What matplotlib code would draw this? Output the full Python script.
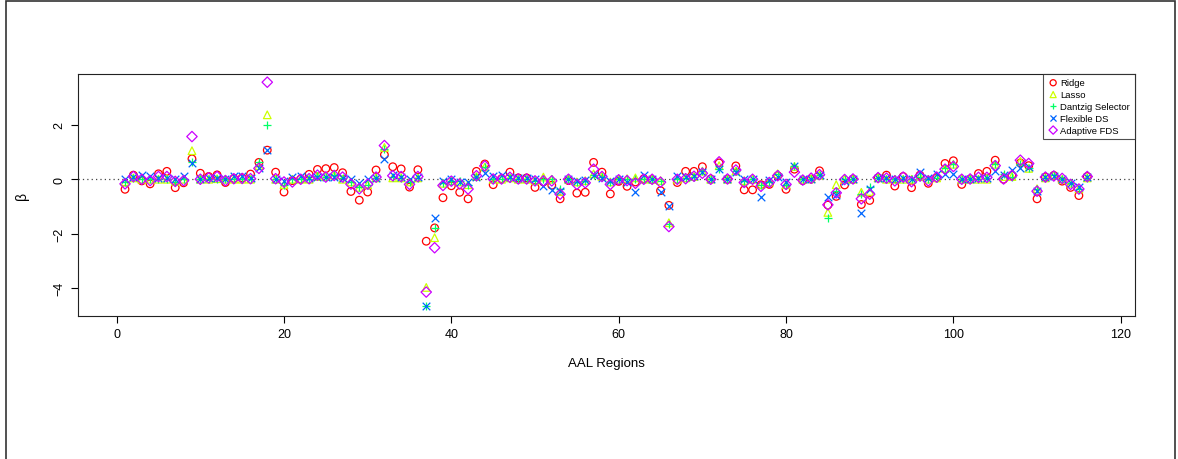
import matplotlib
matplotlib.use("Agg")
import matplotlib.pyplot as plt
from matplotlib.patches import Rectangle
import numpy as np

plt.rcParams['font.family'] = ['Liberation Sans', 'DejaVu Sans']

regions = list(range(1, 117))

ridge = [-0.37, 0.15, -0.06, -0.17, 0.20, 0.29, -0.31, -0.13, 0.75, 0.22,
         0.10, 0.16, -0.12, 0.03, 0.05, 0.19, 0.62, 1.07, 0.26, -0.47,
         -0.05, 0.01, 0.18, 0.36, 0.39, 0.43, 0.24, -0.45, -0.77, -0.47,
         0.34, 0.90, 0.46, 0.38, -0.29, 0.35, -2.28, -1.79, -0.68, -0.24,
         -0.48, -0.72, 0.29, 0.56, -0.20, 0.02, 0.26, 0.05, 0.05, -0.30,
         -0.10, -0.22, -0.72, -0.05, -0.51, -0.48, 0.62, 0.26, -0.54, -0.08,
         -0.26, -0.10, 0.02, -0.02, -0.42, -0.96, -0.12, 0.29, 0.29, 0.46,
         0.01, 0.60, 0.00, 0.49, -0.39, -0.39, -0.20, -0.19, 0.13, -0.37,
         0.37, -0.05, 0.00, 0.31, -0.95, -0.63, -0.21, 0.00, -0.93, -0.78,
         0.05, 0.15, -0.25, 0.10, -0.31, 0.15, -0.15, 0.05, 0.58, 0.68,
         -0.19, 0.00, 0.21, 0.29, 0.70, 0.00, 0.14, 0.60, 0.50, -0.72,
         0.08, 0.14, -0.07, -0.30, -0.60, 0.10]

lasso = [-0.10, 0.05, 0.00, 0.00, 0.00, 0.00, -0.08, 0.00, 1.05, 0.00,
         0.00, 0.02, 0.00, 0.00, 0.00, 0.00, 0.50, 2.37, 0.00, -0.20,
         0.00, 0.00, 0.00, 0.10, 0.10, 0.15, 0.00, -0.10, -0.30, -0.20,
         0.05, 1.17, 0.05, 0.05, -0.10, 0.05, -3.98, -2.15, -0.15, -0.05,
         -0.10, -0.20, 0.10, 0.45, 0.00, 0.00, 0.05, 0.00, 0.00, -0.05,
         0.08, 0.00, -0.45, 0.00, -0.10, -0.05, 0.20, 0.10, -0.10, 0.00,
         0.02, 0.05, 0.00, 0.00, -0.05, -1.60, 0.00, 0.05, 0.10, 0.30,
         0.00, 0.50, 0.00, 0.30, -0.05, 0.00, -0.20, -0.10, 0.20, -0.20,
         0.47, 0.00, 0.02, 0.15, -1.22, -0.20, 0.00, 0.00, -0.48, -0.45,
         0.05, 0.00, 0.00, 0.00, 0.00, 0.10, 0.00, 0.05, 0.40, 0.55,
         0.00, 0.00, 0.00, 0.00, 0.55, 0.10, 0.10, 0.66, 0.40, -0.35,
         0.05, 0.15, 0.00, -0.15, -0.35, 0.05]

dantzig = [-0.10, 0.05, 0.00, 0.00, 0.00, 0.02, -0.10, 0.00, 0.65, 0.00,
           0.00, 0.02, 0.00, 0.00, 0.00, 0.00, 0.62, 1.98, 0.00, -0.20,
           0.00, 0.00, 0.00, 0.12, 0.10, 0.15, 0.05, -0.10, -0.30, -0.20,
           0.05, 1.10, 0.10, 0.05, -0.10, 0.05, -4.65, -1.79, -0.15, -0.05,
           -0.05, -0.20, 0.10, 0.45, 0.00, 0.00, 0.05, 0.00, 0.00, -0.05,
           0.00, 0.00, -0.35, 0.00, -0.10, -0.05, 0.14, 0.10, -0.10, 0.00,
           0.00, 0.00, 0.00, 0.00, -0.05, -1.65, 0.00, 0.05, 0.10, 0.30,
           0.00, 0.38, 0.00, 0.30, -0.05, 0.00, -0.20, -0.10, 0.20, -0.20,
           0.47, 0.00, 0.02, 0.15, -1.42, -0.45, 0.00, 0.00, -0.55, -0.28,
           0.05, 0.00, 0.00, 0.00, 0.00, 0.10, 0.00, 0.05, 0.40, 0.55,
           0.00, 0.00, 0.00, 0.05, 0.55, 0.21, 0.10, 0.55, 0.40, -0.35,
           0.05, 0.15, 0.00, -0.15, -0.35, 0.05]

flexible = [0.00, 0.10, 0.14, 0.12, 0.05, 0.05, 0.02, 0.12, 0.60, 0.02,
            0.05, 0.05, 0.00, 0.12, 0.12, 0.05, 0.42, 1.07, 0.00, -0.05,
            0.10, 0.12, 0.05, 0.10, 0.10, 0.10, 0.05, 0.01, -0.14, 0.00,
            0.05, 0.73, 0.15, 0.10, 0.00, 0.10, -4.65, -1.43, -0.05, 0.00,
            -0.10, -0.10, 0.10, 0.24, 0.11, 0.14, 0.10, 0.05, 0.05, 0.00,
            -0.24, -0.39, -0.43, 0.00, -0.05, -0.02, 0.14, 0.05, -0.05, 0.00,
            -0.10, -0.47, 0.15, 0.00, -0.48, -1.00, 0.13, 0.10, 0.12, 0.25,
            0.00, 0.38, 0.00, 0.28, 0.00, 0.00, -0.64, -0.02, 0.10, -0.10,
            0.47, 0.00, 0.00, 0.14, -0.64, -0.57, -0.05, 0.00, -1.25, -0.35,
            0.05, 0.05, 0.00, 0.05, 0.00, 0.28, 0.05, 0.19, 0.20, 0.20,
            0.00, 0.02, 0.05, 0.05, 0.31, 0.16, 0.34, 0.40, 0.45, -0.45,
            0.08, 0.12, 0.00, -0.15, -0.30, 0.08]

adaptive = [-0.17, 0.10, 0.00, -0.05, 0.10, 0.10, -0.08, -0.05, 1.57, 0.00,
            0.05, 0.10, -0.05, 0.02, 0.03, 0.02, 0.40, 3.57, 0.02, -0.10,
            -0.10, 0.00, 0.02, 0.15, 0.08, 0.14, 0.08, -0.18, -0.35, -0.18,
            0.08, 1.24, 0.13, 0.10, -0.19, 0.10, -4.15, -2.52, -0.23, -0.07,
            -0.17, -0.36, 0.13, 0.49, 0.01, 0.01, 0.07, 0.01, 0.01, -0.06,
            -0.06, -0.06, -0.55, 0.00, -0.19, -0.13, 0.37, 0.10, -0.19, -0.02,
            -0.05, -0.15, 0.00, 0.00, -0.11, -1.74, 0.00, 0.02, 0.11, 0.22,
            0.00, 0.64, 0.01, 0.34, -0.12, 0.00, -0.26, -0.12, 0.13, -0.19,
            0.26, -0.03, 0.04, 0.17, -0.94, -0.50, -0.01, 0.01, -0.72, -0.55,
            0.06, 0.04, -0.06, 0.08, -0.09, 0.12, -0.06, 0.08, 0.37, 0.47,
            0.00, 0.01, 0.07, 0.07, 0.50, 0.01, 0.14, 0.70, 0.58, -0.44,
            0.08, 0.12, 0.03, -0.19, -0.36, 0.10]

series = [
    ("Ridge", ridge, "o", "#FF0000"),
    ("Lasso", lasso, "^", "#CCFF00"),
    ("Dantzig Selector", dantzig, "+", "#00FF66"),
    ("Flexible DS", flexible, "x", "#0066FF"),
    ("Adaptive FDS", adaptive, "D", "#CC00FF"),
]

fig = plt.figure(figsize=(11.78, 4.60), dpi=100)
ax = fig.add_axes([78 / 1178, 1 - 316.7 / 460, (1134.7 - 78) / 1178, (316.7 - 74.5) / 460])

for name, vals, mk, col in series:
    if mk in ("+", "x"):
        ax.scatter(regions, vals, marker=mk, s=30, c=col, linewidths=0.9, label=name, zorder=3)
    elif mk == "D":
        ax.scatter(regions, vals, marker=mk, s=28, facecolors="none", edgecolors=col,
                   linewidths=0.9, label=name, zorder=3)
    else:
        ax.scatter(regions, vals, marker=mk, s=30, facecolors="none", edgecolors=col,
                   linewidths=0.9, label=name, zorder=3)

ax.axhline(0, color="#444444", linestyle=(0, (1, 2.5)), linewidth=0.9, zorder=2)

ax.set_xlim(-4.62, 121.67)
ax.set_ylim(-5.02, 3.89)
ax.set_xticks([0, 20, 40, 60, 80, 100, 120])
ax.set_yticks([-4, -2, 0, 2])
ax.tick_params(axis="both", direction="out", length=5, width=0.8, labelsize=9, pad=4)
for lab in ax.get_yticklabels():
    lab.set_rotation(90)
    lab.set_va("center")
for sp in ax.spines.values():
    sp.set_linewidth(0.8)
    sp.set_color("#222222")

ax.set_xlabel("AAL Regions", fontsize=9.5, labelpad=12)
ax.set_ylabel("β", fontsize=10, labelpad=18)

leg = ax.legend(loc="upper right", fontsize=6.8, frameon=True, fancybox=False,
                edgecolor="#222222", borderpad=0.5, handletextpad=0.2,
                handlelength=1.1, labelspacing=0.3, borderaxespad=0.0,
                markerscale=0.8, scatterpoints=1)
leg.get_frame().set_linewidth(0.8)

fig.patches.append(Rectangle((6 / 1178, -0.01), (1175 - 6) / 1178, 1.01 - 2 / 460,
                             transform=fig.transFigure, fill=False,
                             edgecolor="#333333", linewidth=1.2))

fig.savefig("out.png", dpi=100)
